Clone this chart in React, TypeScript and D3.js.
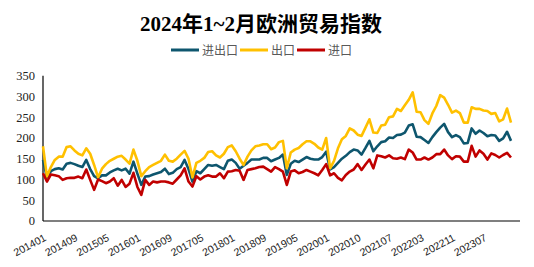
import React from "react";
import * as d3 from "d3";

// Months 2014-01 .. 2024-02 (2020-02 and 2021-02 not present in the source)
const months: string[] = (() => {
  const out: string[] = [];
  for (let y = 2014; y <= 2024; y++) {
    for (let m = 1; m <= 12; m++) {
      if (y === 2024 && m > 2) break;
      if ((y === 2020 || y === 2021) && m === 2) continue;
      out.push(`${y}${String(m).padStart(2, "0")}`);
    }
  }
  return out;
})();

const seriesNames = ["进出口", "出口", "进口"];

const total = [
  147, 105, 120, 125, 127, 124, 138, 140, 137, 133, 130, 147, 125, 108, 103, 110, 110, 117, 122, 126,
  122, 126, 114, 143, 114, 87, 107, 108, 112, 115, 118, 126, 113, 116, 125, 130, 147, 125, 95, 120,
  115, 125, 135, 133, 135, 130, 125, 145, 148, 140, 126, 133, 140, 148, 148, 148, 152, 152, 144, 148,
  152, 160, 111, 138, 145, 142, 148, 154, 150, 148, 148, 154, 167, 124, 130, 140, 150, 157, 166, 172,
  170, 160, 176, 193, 168, 180, 190, 192, 201, 200, 207, 208, 213, 230, 233, 203, 202, 195, 188, 202,
  214, 225, 234, 214, 202, 207, 202, 187, 188, 223, 210, 218, 212, 204, 207, 206, 193, 199, 215, 193,
];

const exportsIdx = [
  180, 107, 130, 147, 155, 155, 178, 180, 170, 162, 158, 175, 162, 135, 105, 126, 137, 145, 150, 155,
  157, 148, 138, 172, 145, 108, 120, 130, 135, 140, 145, 160, 145, 143, 150, 160, 169, 150, 105, 140,
  145, 152, 166, 168, 158, 153, 162, 178, 182, 168, 150, 135, 155, 170, 180, 182, 185, 185, 173, 177,
  190, 193, 127, 165, 172, 176, 185, 192, 192, 186, 177, 172, 200, 127, 145, 175, 197, 205, 223, 218,
  208, 205, 225, 245, 213, 212, 230, 232, 250, 252, 270, 265, 279, 292, 310, 263, 262, 243, 234, 259,
  277, 303, 297, 280, 261, 266, 260, 237, 237, 274, 270, 270, 266, 265, 258, 260, 240, 245, 271, 237,
];

const importsIdx = [
  115, 95, 112, 110, 108, 99, 103, 104, 104, 107, 103, 124, 99, 75, 100, 96, 91, 95, 103, 85,
  99, 82, 90, 116, 82, 63, 99, 87, 95, 93, 95, 95, 93, 90, 100, 110, 127, 95, 83, 108,
  100, 107, 110, 107, 107, 115, 103, 119, 120, 123, 121, 99, 123, 125, 127, 130, 131, 125, 119, 130,
  125, 119, 87, 119, 122, 115, 118, 123, 119, 115, 110, 123, 137, 110, 115, 104, 98, 111, 119, 124,
  137, 123, 136, 148, 127, 158, 156, 153, 158, 151, 150, 153, 149, 172, 165, 148, 148, 153, 148, 153,
  161, 161, 172, 158, 149, 156, 155, 143, 143, 181, 155, 170, 162, 148, 163, 159, 153, 159, 164, 153,
];

const yTicks = [0, 50, 100, 150, 200, 250, 300, 350];
const colors = ["#0E566E", "#FFC000", "#C00000"];

const W = 534;
const H = 267;
const left = 43;
const right = 511;
const axisRight = 520;
const top = 75.7;
const bottom = 221;

export default function App() {
  const x = d3.scalePoint<string>().domain(months).range([left, right]);
  const y = d3.scaleLinear().domain([0, 350]).range([bottom, top]);
  const line = d3
    .line<number>()
    .x((_, i) => x(months[i]) as number)
    .y((d) => y(d));
  const data = [total, exportsIdx, importsIdx];
  const labelMonths = months.filter((_, i) => i % 8 === 0);

  const legendItems = [
    { lx: 171, tx: 202 },
    { lx: 240, tx: 271 },
    { lx: 297, tx: 328 },
  ];

  return (
    <svg
      width={W}
      height={H}
      style={{ position: "absolute", left: 0, top: 0, background: "#fff" }}
    >
      <text
        x={261}
        y={31}
        textAnchor="middle"
        fontSize={21}
        fontWeight="bold"
        fontFamily="'Liberation Serif', 'Noto Sans CJK SC', serif"
        fill="#000"
      >
        2024年1~2月欧洲贸易指数
      </text>

      {seriesNames.map((name, i) => (
        <g key={name}>
          <line
            x1={legendItems[i].lx}
            x2={legendItems[i].lx + 28}
            y1={50}
            y2={50}
            stroke={colors[i]}
            strokeWidth={3}
          />
          <text
            x={legendItems[i].tx}
            y={54.5}
            fontSize={12}
            fontFamily="'Noto Sans CJK SC', sans-serif"
            fill="#595959"
          >
            {name}
          </text>
        </g>
      ))}

      {yTicks.map((t) => (
        <text
          key={t}
          x={35}
          y={y(t)}
          dy="0.35em"
          textAnchor="end"
          fontSize={12.5}
          fontFamily="'Liberation Serif', 'Times New Roman', serif"
          fill="#222"
        >
          {t}
        </text>
      ))}

      <line x1={left} x2={left} y1={top} y2={bottom} stroke="#000" strokeWidth={1.2} />
      <line x1={left} x2={axisRight} y1={bottom} y2={bottom} stroke="#000" strokeWidth={1.2} />

      {labelMonths.map((m) => {
        const px = x(m) as number;
        return (
          <text
            key={m}
            transform={`translate(${px + 4},${240}) rotate(-28)`}
            textAnchor="end"
            fontSize={10.5}
            fontFamily="'Liberation Sans', sans-serif"
            fill="#222"
          >
            {m}
          </text>
        );
      })}

      {data.map((d, i) => (
        <path
          key={seriesNames[i]}
          d={line(d) || ""}
          fill="none"
          stroke={colors[i]}
          strokeWidth={2.6}
          strokeLinejoin="round"
        />
      ))}
    </svg>
  );
}
